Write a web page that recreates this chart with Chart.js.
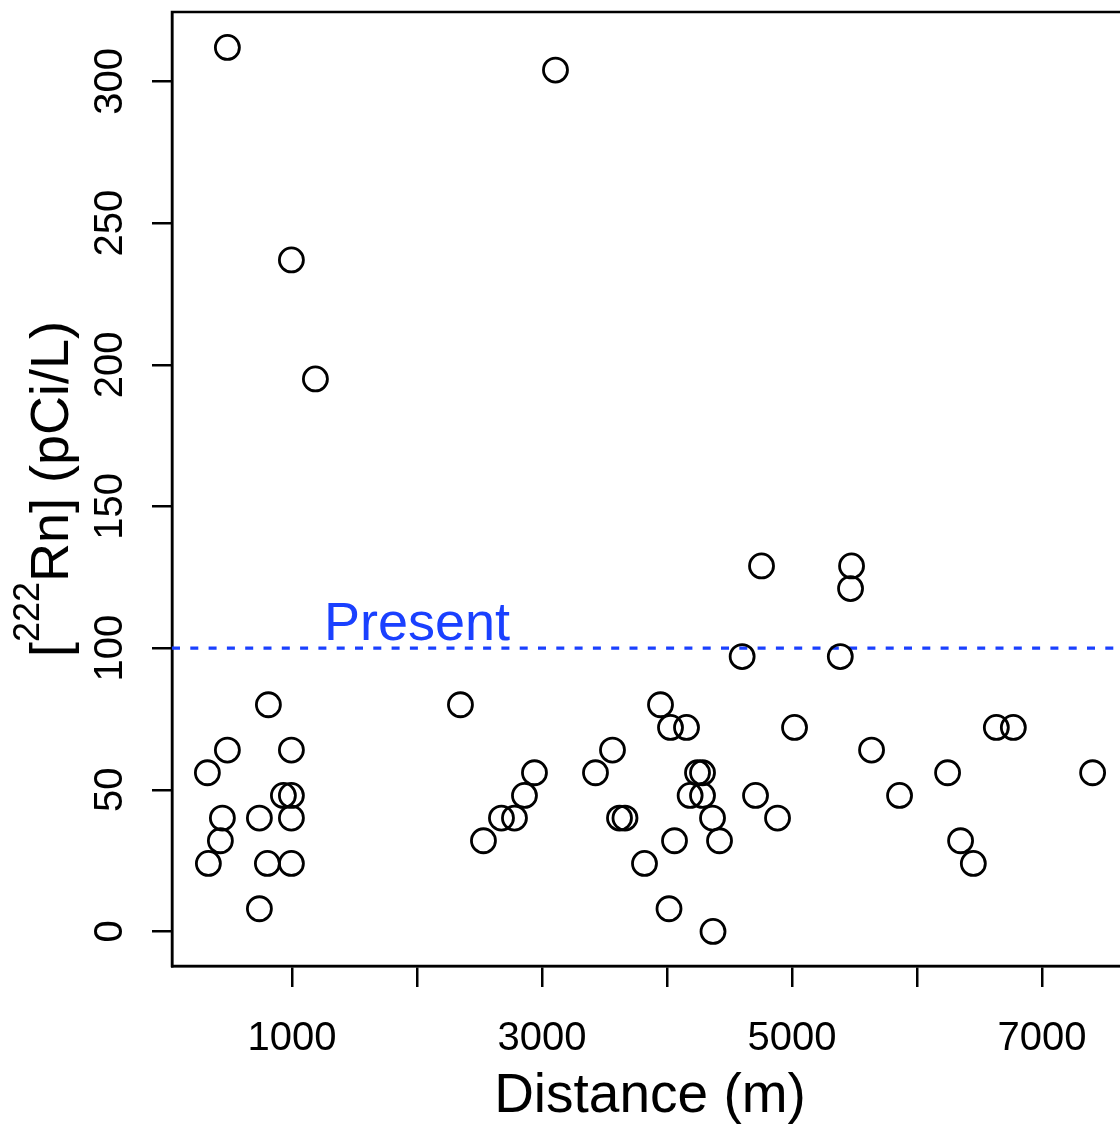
<!DOCTYPE html>
<html>
<head>
<meta charset="utf-8">
<script src="https://cdn.jsdelivr.net/npm/chart.js@4/dist/chart.umd.min.js"></script>
<style>
html,body{margin:0;padding:0;overflow:hidden;background:#fff}
canvas{display:block}
</style>
</head>
<body>
<canvas id="c" width="1140" height="1127"></canvas>
<script>
// ---- data ----
const distance = [484, 3108, 996, 1188, 4756, 5476, 5468, 4601, 5386, 812,
  2348, 3948, 4028, 4156, 5020, 6634, 6770, 484, 996, 3564,
  5636, 324, 2940, 3428, 4244, 4284, 6244, 7404, 932, 996,
  2860, 4185, 4284, 4708, 5860, 444, 740, 996, 2676, 2780,
  3620, 3664, 4364, 4884, 428, 2532, 4060, 4420, 6348, 332,
  804, 996, 3820, 6450, 740, 4016, 4368];
const radon = [312, 304, 237, 195, 129, 129, 121, 97, 97, 80,
  80, 80, 72, 72, 72, 72, 72, 64, 64, 64,
  64, 56, 56, 56, 56, 56, 56, 56, 48, 48,
  48, 48, 48, 48, 48, 40, 40, 40, 40, 40,
  40, 40, 40, 40, 32, 32, 32, 32, 32, 24,
  24, 24, 24, 24, 8, 8, 0];
const xTickValues = [1000, 2000, 3000, 4000, 5000, 6000, 7000];
const xTickLabels = ['1000', '', '3000', '', '5000', '', '7000'];
const yTickValues = [0, 50, 100, 150, 200, 250, 300];
const yTickLabels = ['0', '50', '100', '150', '200', '250', '300'];
const xRange = [41, 7687];
const yRange = [-12.2, 324.5];
const thresholdValue = 100;
const thresholdLabel = 'Present';
const thresholdLabelX = 2000;
const xTitle = 'Distance (m)';
const yTitleParts = ['[', '222', 'Rn] (pCi/L)'];

// ---- styling ----
const FONT = '"Liberation Sans", Arial, Helvetica, sans-serif';
const BLUE = '#1a40ff';

const boxPlugin = {
  id: 'box',
  beforeDatasetsDraw(chart) {
    const {ctx, chartArea: a} = chart;
    ctx.save();
    ctx.strokeStyle = '#000';
    ctx.lineWidth = 2.5;
    ctx.strokeRect(a.left, a.top, a.right - a.left, a.bottom - a.top);
    ctx.restore();
  }
};

const presentPlugin = {
  id: 'present',
  afterDatasetsDraw(chart) {
    const {ctx} = chart;
    const x = chart.scales.x.getPixelForValue(thresholdLabelX);
    const y = chart.scales.y.getPixelForValue(thresholdValue);
    ctx.save();
    ctx.font = '54px ' + FONT;
    ctx.fillStyle = BLUE;
    ctx.textAlign = 'center';
    ctx.textBaseline = 'alphabetic';
    ctx.fillText(thresholdLabel, x, y - 8);
    ctx.restore();
  }
};

const yTitlePlugin = {
  id: 'ytitle',
  afterDraw(chart) {
    const {ctx, chartArea: a} = chart;
    const big = '54px ' + FONT, small = '36px ' + FONT;
    ctx.save();
    ctx.fillStyle = '#000';
    ctx.textBaseline = 'alphabetic';
    ctx.textAlign = 'left';
    ctx.font = big; const w1 = ctx.measureText(yTitleParts[0]).width;
    ctx.font = small; const w2 = ctx.measureText(yTitleParts[1]).width;
    ctx.font = big; const w3 = ctx.measureText(yTitleParts[2]).width;
    const total = w1 + w2 + w3;
    ctx.translate(a.left - 103.7, (a.top + a.bottom) / 2);
    ctx.rotate(-Math.PI / 2);
    let x = -total / 2;
    ctx.font = big; ctx.fillText(yTitleParts[0], x, 0); x += w1;
    ctx.font = small; ctx.fillText(yTitleParts[1], x, -29); x += w2;
    ctx.font = big; ctx.fillText(yTitleParts[2], x, 0);
    ctx.restore();
  }
};

new Chart(document.getElementById('c'), {
  type: 'scatter',
  data: {
    datasets: [
      {
        data: distance.map((d, i) => ({x: d, y: radon[i]})),
        pointStyle: 'circle',
        pointRadius: 12,
        pointHoverRadius: 12,
        borderColor: '#000',
        backgroundColor: 'rgba(0,0,0,0)',
        borderWidth: 2.8,
        pointHoverBorderWidth: 2.8,
        order: 1
      },
      {
        type: 'line',
        data: xRange.map(x => ({x: x, y: thresholdValue})),
        borderColor: BLUE,
        borderWidth: 3.3,
        borderDash: [8, 10.3],
        borderCapStyle: 'butt',
        pointRadius: 0,
        fill: false,
        order: 2
      }
    ]
  },
  options: {
    responsive: false,
    animation: false,
    devicePixelRatio: 1,
    events: [],
    layout: {autoPadding: false, padding: {top: 12, right: 12, left: 0, bottom: 0}},
    plugins: {legend: {display: false}, tooltip: {enabled: false}},
    scales: {
      x: {
        type: 'linear',
        position: 'bottom',
        min: xRange[0],
        max: xRange[1],
        afterBuildTicks: s => { s.ticks = xTickValues.map(v => ({value: v})); },
        afterFit: s => { s.height = 161; s.paddingLeft = 0; s.paddingRight = 0; },
        grid: {drawOnChartArea: false, drawTicks: true, tickLength: 21, color: '#000', lineWidth: 2.5},
        border: {display: true, color: '#000', width: 2.5},
        ticks: {
          autoSkip: false, maxRotation: 0, minRotation: 0, padding: 32, color: '#000',
          font: {family: FONT, size: 40, lineHeight: 1},
          callback: v => xTickLabels[xTickValues.indexOf(v)]
        },
        title: {display: true, text: xTitle, color: '#000', font: {family: FONT, size: 55, lineHeight: 1}, padding: {top: 0, bottom: 3}}
      },
      y: {
        type: 'linear',
        position: 'left',
        min: yRange[0],
        max: yRange[1],
        afterBuildTicks: s => { s.ticks = yTickValues.map(v => ({value: v})); },
        afterFit: s => { s.width = 172; s.paddingTop = 0; s.paddingBottom = 0; },
        grid: {drawOnChartArea: false, drawTicks: true, tickLength: 20, color: '#000', lineWidth: 2.5},
        border: {display: true, color: '#000', width: 2.5},
        ticks: {
          autoSkip: false, minRotation: 90, maxRotation: 90, crossAlign: 'center', padding: 7.6, color: '#000',
          font: {family: FONT, size: 40, lineHeight: 1},
          callback: v => yTickLabels[yTickValues.indexOf(v)]
        }
      }
    }
  },
  plugins: [boxPlugin, presentPlugin, yTitlePlugin]
});
</script>
</body>
</html>
